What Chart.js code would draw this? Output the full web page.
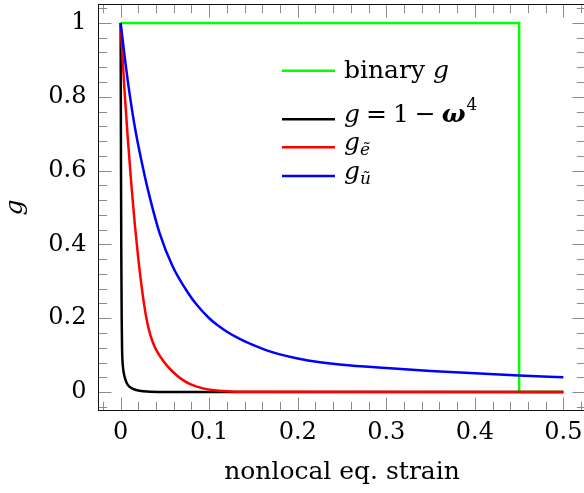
<!DOCTYPE html>
<html><head><meta charset="utf-8">
<script src="https://cdn.jsdelivr.net/npm/chart.js@4"></script>
<style>html,body{margin:0;padding:0;overflow:hidden;background:#fff}
#wrap{width:588px;height:493px;position:relative}</style>
</head><body><div id="wrap"><canvas id="c"></canvas></div>
<script>
// ---- data ----
const xTicks = [0, 0.1, 0.2, 0.3, 0.4, 0.5];
const xTickLabels = ['0', '0.1', '0.2', '0.3', '0.4', '0.5'];
const yTicks = [0, 0.2, 0.4, 0.6, 0.8, 1];
const yTickLabels = ['0', '0.2', '0.4', '0.6', '0.8', '1'];
const xMinorTicks = [-0.02, 0.02, 0.04, 0.06, 0.08, 0.12, 0.14, 0.16, 0.18, 0.22, 0.24, 0.26, 0.28, 0.32, 0.34, 0.36, 0.38, 0.42, 0.44, 0.46, 0.48, 0.52];
const yMinorTicks = [-0.04, 0.04, 0.08, 0.12, 0.16, 0.24, 0.28, 0.32, 0.36, 0.44, 0.48, 0.52, 0.56, 0.64, 0.68, 0.72, 0.76, 0.84, 0.88, 0.92, 0.96, 1.04];

const binaryX = [0, 0.45, 0.45, 0.5];
const binaryG = [1, 1, 0, 0];

const omegaX = [0, 0.0004, 0.0008, 0.0012, 0.0016, 0.002, 0.003, 0.0045, 0.007, 0.0102, 0.015, 0.0215, 0.03, 0.045, 0.07, 0.5];
const omegaG = [1, 0.6, 0.35, 0.2, 0.12, 0.088, 0.06, 0.041, 0.024, 0.014, 0.0075, 0.0035, 0.0012, 0.0002, 0, 0];

const eX = [0, 0.004, 0.008, 0.012, 0.016, 0.02, 0.024, 0.028, 0.032, 0.036, 0.04, 0.048, 0.058, 0.07, 0.08, 0.093, 0.105, 0.12, 0.14, 0.5];
const eG = [1, 0.83, 0.69, 0.565, 0.455, 0.36, 0.28, 0.215, 0.168, 0.137, 0.115, 0.085, 0.057, 0.033, 0.02, 0.01, 0.005, 0.002, 0.0005, 0];

const uX = [0, 0.005, 0.01, 0.017, 0.025, 0.0337, 0.0441, 0.0588, 0.0766, 0.0855, 0.1, 0.11, 0.12, 0.135, 0.15, 0.165, 0.18, 0.2, 0.225, 0.25, 0.3, 0.35, 0.4, 0.45, 0.5];
const uG = [1, 0.9, 0.81, 0.705, 0.61, 0.52, 0.43, 0.34, 0.267, 0.238, 0.2, 0.18, 0.1635, 0.1435, 0.127, 0.113, 0.102, 0.091, 0.081, 0.074, 0.065, 0.057, 0.051, 0.045, 0.040];

const pts = (xs, ys) => xs.map((x, i) => ({x, y: ys[i]}));
const SERIF = 'DejaVu Serif';

const framePlugin = {
  id: 'frame',
  afterDraw(chart) {
    const {ctx, chartArea: ca, scales: {x, y}} = chart;
    ctx.save();
    ctx.lineWidth = 1;
    ctx.strokeStyle = '#8c8c8c';
    const majL = 13, minL = 8.7;
    const vt = (v, len) => {
      const px = Math.round(x.getPixelForValue(v)) + 0.5;
      ctx.beginPath();
      ctx.moveTo(px, ca.bottom); ctx.lineTo(px, ca.bottom - len);
      ctx.moveTo(px, ca.top); ctx.lineTo(px, ca.top + len);
      ctx.stroke();
    };
    const ht = (v, len) => {
      const py = Math.round(y.getPixelForValue(v)) + 0.5;
      ctx.beginPath();
      ctx.moveTo(ca.left, py); ctx.lineTo(ca.left + len, py);
      ctx.moveTo(ca.right, py); ctx.lineTo(ca.right - len, py);
      ctx.stroke();
    };
    xMinorTicks.forEach(v => vt(v, minL));
    xTicks.forEach(v => vt(v, majL));
    yMinorTicks.forEach(v => ht(v, minL));
    yTicks.forEach(v => ht(v, majL));
    ctx.strokeStyle = '#111';
    ctx.strokeRect(ca.left, ca.top, ca.right - ca.left, ca.bottom - ca.top);

    // legend
    const lx0 = 282, lx1 = 335, tx = 344;
    const rows = [
      {c: '#00ff00', ly: 70.7},
      {c: '#000000', ly: 119.3},
      {c: '#ff0000', ly: 147.3},
      {c: '#0000ff', ly: 176}
    ];
    ctx.lineWidth = 2.5;
    rows.forEach(r => {
      ctx.strokeStyle = r.c;
      ctx.beginPath(); ctx.moveTo(lx0, r.ly); ctx.lineTo(lx1, r.ly); ctx.stroke();
    });
    ctx.fillStyle = '#000';
    ctx.textBaseline = 'alphabetic';
    ctx.textAlign = 'left';
    const put = (txt, font, xx, yy) => { ctx.font = font; ctx.fillText(txt, xx, yy); return xx + ctx.measureText(txt).width; };
    const N = '25px "' + SERIF + '"', I = 'italic 25px "' + SERIF + '"', BI = 'italic bold 25px "' + SERIF + '"';
    const SUB = 'italic 17px "' + SERIF + '"', SUP = '17px "' + SERIF + '"';
    let p = put('binary ', N, tx, 78);
    put('g', I, p, 78);
    let b = 122;
    p = put('g', I, tx, b) + 6;
    p = put('=', N, p, b) + 6;
    p = put('1', N, p, b) + 6;
    p = put('\u2212', N, p, b) + 6;
    p = put('\u03c9', BI, p, b) + 1;
    put('4', SUP, p, b - 12);
    p = put('g', I, tx, 150);
    put('\u1ebd', SUB, p, 155);
    p = put('g', I, tx, 179);
    put('\u0169', SUB, p, 184);
    ctx.restore();
  }
};

new Chart(document.getElementById('c'), {
  type: 'line',
  data: {
    datasets: [
      {label: 'binary g', data: pts(binaryX, binaryG), borderColor: '#00ff00', tension: 0, order: 4},
      {label: 'g = 1 − ω⁴', data: pts(omegaX, omegaG), borderColor: '#000000', cubicInterpolationMode: 'monotone', order: 3},
      {label: 'g_ẽ', data: pts(eX, eG), borderColor: '#ff0000', cubicInterpolationMode: 'monotone', order: 2},
      {label: 'g_ũ', data: pts(uX, uG), borderColor: '#0000ff', cubicInterpolationMode: 'monotone', order: 1}
    ]
  },
  options: {
    responsive: true, maintainAspectRatio: false, animation: false,
    parsing: false,
    elements: {point: {radius: 0}, line: {borderWidth: 2.5, fill: false}},
    layout: {padding: {left: 0, right: 2.5, top: 4.5, bottom: 0}},
    plugins: {legend: {display: false}, tooltip: {enabled: false}},
    scales: {
      x: {
        type: 'linear', min: -0.025, max: 0.525,
        afterBuildTicks: s => { s.ticks = xTicks.map(v => ({value: v})); },
        afterFit: s => { s.height = 82.5; s.paddingLeft = 0; s.paddingRight = 0; },
        grid: {display: false, drawTicks: false},
        border: {display: false},
        ticks: {padding: 8, autoSkip: false, maxRotation: 0, color: '#000',
          font: {family: SERIF, size: 24},
          callback: (v, i) => xTickLabels[i]},
        title: {display: true, text: 'nonlocal eq. strain', color: '#000',
          font: {family: SERIF, size: 25}, padding: {top: 0, bottom: 6}}
      },
      y: {
        type: 'linear', min: -0.05, max: 1.05,
        afterBuildTicks: s => { s.ticks = yTicks.map(v => ({value: v})); },
        afterFit: s => { s.width = 98.5; s.paddingTop = 0; s.paddingBottom = 0; },
        grid: {display: false, drawTicks: false},
        border: {display: false},
        ticks: {padding: 12, autoSkip: false, color: '#000',
          font: {family: SERIF, size: 24},
          callback: (v, i) => yTickLabels[i]},
        title: {display: true, text: 'g', color: '#000',
          font: {family: SERIF, size: 25, style: 'italic'}, padding: {top: 0, bottom: 0}}
      }
    }
  },
  plugins: [framePlugin]
});
</script>
</body></html>
